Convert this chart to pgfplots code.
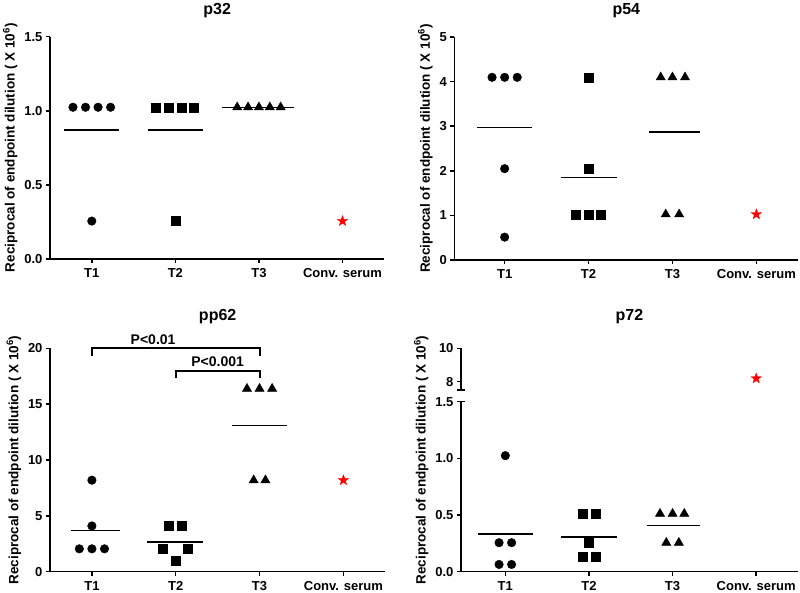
\documentclass[border=0pt]{standalone}
\usepackage{fontspec}
\setmainfont{Liberation Sans}
\usepackage{pgfplots}
\pgfplotsset{compat=1.18}

\pgfdeclareplotmark{fstar}{%
  \pgfpathmoveto{\pgfpointpolar{90}{\pgfplotmarksize}}%
  \pgfpathlineto{\pgfpointpolar{126}{0.4\pgfplotmarksize}}%
  \pgfpathlineto{\pgfpointpolar{162}{\pgfplotmarksize}}%
  \pgfpathlineto{\pgfpointpolar{198}{0.4\pgfplotmarksize}}%
  \pgfpathlineto{\pgfpointpolar{234}{\pgfplotmarksize}}%
  \pgfpathlineto{\pgfpointpolar{270}{0.4\pgfplotmarksize}}%
  \pgfpathlineto{\pgfpointpolar{306}{\pgfplotmarksize}}%
  \pgfpathlineto{\pgfpointpolar{342}{0.4\pgfplotmarksize}}%
  \pgfpathlineto{\pgfpointpolar{18}{\pgfplotmarksize}}%
  \pgfpathlineto{\pgfpointpolar{54}{0.4\pgfplotmarksize}}%
  \pgfpathclose
  \pgfusepathqfillstroke
}

\pgfplotsset{
  panel/.style={
    scale only axis,
    axis x line*=bottom, axis y line*=left,
    axis line style={-, line width=1.5pt},
    every tick/.style={line width=1.5pt, black},
    tick align=outside,
    major tick length=4pt,
    xtick={0,1,2,3},
    xticklabels={T1,T2,T3,Conv. serum},
    xmax=3.5,
    ticklabel style={font=\bfseries\fontsize{13}{13}\selectfont},
    xticklabel style={yshift=-2pt},
    /pgf/number format/assume math mode=true,
    title style={font=\bfseries\fontsize{16}{16}\selectfont, at={(0.5,1)}, anchor=base, yshift=16pt},
    ylabel style={font=\bfseries\fontsize{13.5}{13.5}\selectfont},
    clip=false,
  },
  ylab/.style={ylabel={Reciprocal of endpoint dilution ( X 10\textsuperscript{6})}},
  onedec/.style={yticklabel style={/pgf/number format/fixed, /pgf/number format/fixed zerofill, /pgf/number format/precision=1}},
  mline/.style={black, line width=1.3pt, no marks},
  circ/.style={only marks, mark=*, mark size=4.3pt, black},
  sq/.style={only marks, mark=square*, mark size=4.5pt, black},
  tri/.style={only marks, mark=triangle*, mark size=5.3pt, black},
  st/.style={only marks, mark=fstar, mark size=5.5pt, red, mark options={line width=0.3pt}},
}

\begin{document}
\begin{tikzpicture}[x=1pt,y=1pt]
\useasboundingbox (0,0) rectangle (800,592);

% ---------------- p32 ----------------
\begin{axis}[panel, ylab, onedec, at={(50pt,333pt)}, anchor=south west,
  width=334.3pt, height=222.3pt, xmin=-0.5, ymin=0, ymax=1.5,
  ytick={0,0.5,1,1.5}, title={p32}]
\addplot[circ] coordinates {(-0.225,1.024) (-0.075,1.024) (0.075,1.024) (0.225,1.024) (0,0.256)};
\addplot[sq] coordinates {(0.76,1.024) (0.92,1.024) (1.07,1.024) (1.22,1.024) (1,0.256)};
\addplot[tri] coordinates {(1.74,1.024) (1.87,1.024) (2,1.024) (2.13,1.024) (2.26,1.024)};
\addplot[st] coordinates {(3,0.256)};
\addplot[mline] coordinates {(-0.33,0.870) (0.33,0.870)};
\addplot[mline] coordinates {(0.67,0.870) (1.33,0.870)};
\addplot[mline] coordinates {(1.56,1.024) (2.42,1.024)};
\end{axis}

% ---------------- p54 ----------------
\begin{axis}[panel, ylab, at={(454.3pt,332pt)}, anchor=south west,
  width=344pt, height=223pt, xmin=-0.6, ymin=0, ymax=5,
  ytick={0,1,2,3,4,5}, title={p54}]
\addplot[circ] coordinates {(-0.15,4.096) (0,4.096) (0.15,4.096) (0,2.048) (0,0.512)};
\addplot[sq] coordinates {(1,4.096) (1,2.048) (0.85,1.024) (1,1.024) (1.15,1.024)};
\addplot[tri] coordinates {(1.86,4.096) (2,4.096) (2.15,4.096) (1.92,1.024) (2.08,1.024)};
\addplot[st] coordinates {(3,1.024)};
\addplot[mline] coordinates {(-0.33,2.970) (0.33,2.970)};
\addplot[mline] coordinates {(0.67,1.843) (1.34,1.843)};
\addplot[mline] coordinates {(1.72,2.867) (2.33,2.867)};
\end{axis}

% ---------------- pp62 ----------------
\begin{axis}[panel, ylab, at={(50pt,20.3pt)}, anchor=south west,
  width=335.3pt, height=223.4pt, xmin=-0.5, ymin=0, ymax=20,
  ytick={0,5,10,15,20}, title={pp62}, title style={yshift=6pt}]
\addplot[circ] coordinates {(0,8.192) (0,4.096) (-0.15,2.048) (0,2.048) (0.15,2.048)};
\addplot[sq] coordinates {(0.92,4.096) (1.07,4.096) (0.84,2.048) (1.14,2.048) (1,1.024)};
\addplot[tri] coordinates {(1.85,16.384) (2,16.384) (2.15,16.384) (1.93,8.192) (2.07,8.192)};
\addplot[st] coordinates {(3,8.192)};
\addplot[mline] coordinates {(-0.25,3.686) (0.33,3.686)};
\addplot[mline] coordinates {(0.66,2.662) (1.32,2.662)};
\addplot[mline] coordinates {(1.67,13.107) (2.33,13.107)};
\draw[line width=2pt] (axis cs:0,19.3) -- (axis cs:0,20) -- (axis cs:2,20) -- (axis cs:2,19.3);
\draw[line width=2pt] (axis cs:1,17.3) -- (axis cs:1,18) -- (axis cs:2,18) -- (axis cs:2,17.3);
\node[anchor=base, font=\bfseries\fontsize{14}{14}\selectfont, inner sep=0pt] at ([yshift=4pt]axis cs:0.73,20) {P<0.01};
\node[anchor=base, font=\bfseries\fontsize{14}{14}\selectfont, inner sep=0pt] at ([yshift=4pt]axis cs:1.5,18) {P<0.001};
\end{axis}

% ---------------- p72 lower ----------------
\begin{axis}[panel, ylab, onedec, at={(461pt,20.3pt)}, anchor=south west,
  width=337pt, height=170pt, xmin=-0.53, ymin=0, ymax=1.5,
  ytick={0,0.5,1,1.5}, ylabel style={at={(ticklabel cs:0.657)}}]
\addplot[circ] coordinates {(0,1.024) (-0.075,0.256) (0.075,0.256) (-0.075,0.064) (0.075,0.064)};
\addplot[sq] coordinates {(0.93,0.512) (1.08,0.512) (1,0.256) (0.93,0.128) (1.08,0.128)};
\addplot[tri] coordinates {(1.85,0.512) (2,0.512) (2.14,0.512) (1.925,0.256) (2.075,0.256)};
\addplot[mline] coordinates {(-0.33,0.333) (0.33,0.333)};
\addplot[mline] coordinates {(0.67,0.307) (1.33,0.307)};
\addplot[mline] coordinates {(1.69,0.410) (2.33,0.410)};
\draw[line width=1.5pt] ([xshift=-4pt]rel axis cs:0,1) -- ([xshift=4pt]rel axis cs:0,1);
\end{axis}

% ---------------- p72 upper ----------------
\begin{axis}[panel, at={(461pt,202pt)}, anchor=south west,
  width=337pt, height=41.7pt, xmin=-0.53, ymin=7.5, ymax=10,
  ytick={8,10}, hide x axis, title={p72}, title style={yshift=6pt}]
\addplot[st] coordinates {(3,8.192)};
\draw[line width=1.5pt] ([xshift=-4pt]rel axis cs:0,0) -- ([xshift=4pt]rel axis cs:0,0);
\end{axis}

\end{tikzpicture}
\end{document}
